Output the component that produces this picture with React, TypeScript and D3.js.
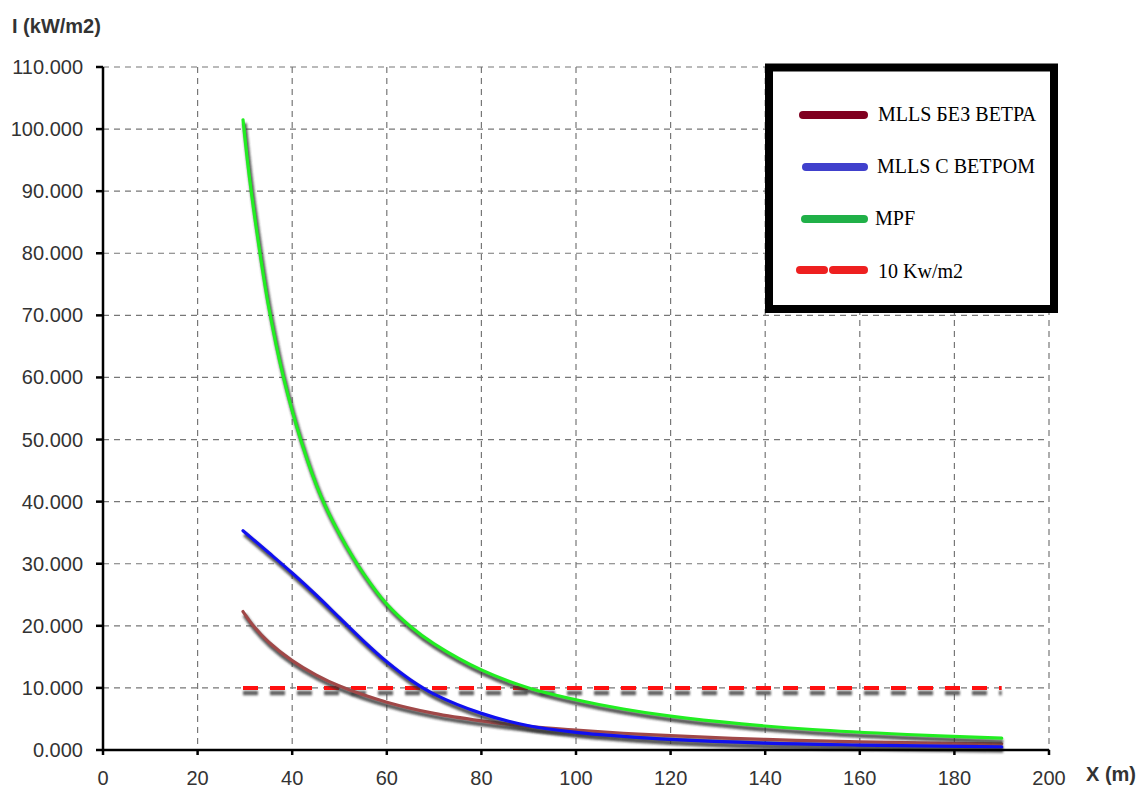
import React from "react";
import * as d3 from "d3";

const xTicks = [0, 20, 40, 60, 80, 100, 120, 140, 160, 180, 200];
const yTicks = [0, 10, 20, 30, 40, 50, 60, 70, 80, 90, 100, 110];

const mpfX = [29.6, 31, 33, 35, 38, 42, 46, 50, 55, 60, 65, 70, 80, 90, 100, 110, 120, 135, 150, 170, 190];
const mpfY = [101.5, 92, 81, 71.5, 60.5, 49.5, 41.0, 34.8, 28.5, 23.5, 19.9, 17.1, 12.9, 10.0, 8.1, 6.6, 5.45, 4.2, 3.3, 2.5, 1.9];

const blueX = [29.6, 35, 40, 45, 50, 55, 60, 65, 70, 80, 90, 100, 110, 120, 140, 160, 190];
const blueY = [35.3, 31.8, 28.5, 25.0, 21.3, 17.6, 14.2, 11.3, 9.0, 5.9, 3.9, 2.85, 2.2, 1.7, 1.1, 0.8, 0.5];

const brownX = [29.6, 32, 35, 40, 45, 50, 60, 70, 80, 90, 100, 110, 120, 140, 160, 190];
const brownY = [22.3, 19.8, 17.4, 14.4, 12.1, 10.3, 7.7, 5.9, 4.7, 3.8, 3.2, 2.7, 2.3, 1.7, 1.3, 1.0];

const limitX = [29.6, 190];
const limitY = [10, 10];

const legendLabels = ["MLLS БЕЗ ВЕТРА", "MLLS С ВЕТРОМ", "MPF", "10 Kw/m2"];

export default function App() {
  const x = d3.scaleLinear().domain([0, 200]).range([103, 1049]);
  const y = d3.scaleLinear().domain([0, 110]).range([750, 67]);

  const line = d3
    .line<[number, number]>()
    .x((d) => x(d[0]))
    .y((d) => y(d[1]))
    .curve(d3.curveCatmullRom.alpha(0.5));

  const zip = (a: number[], b: number[]) => a.map((v, i) => [v, b[i]] as [number, number]);

  const series = [
    { pts: zip(brownX, brownY), color: "#a04848" },
    { pts: zip(blueX, blueY), color: "#1010f0" },
    { pts: zip(mpfX, mpfY), color: "#22ee22" },
  ];

  const font = "'Liberation Sans', Arial, sans-serif";
  const limitPath = line(zip(limitX, limitY)) || "";

  return (
    <svg width={1139} height={789} style={{ position: "absolute", left: 0, top: 0, background: "#fff" }}>
      <defs>
        <filter id="sh" filterUnits="userSpaceOnUse" x={0} y={0} width={1139} height={789}>
          <feGaussianBlur stdDeviation="1.3" />
        </filter>
      </defs>
      <rect x={0} y={0} width={1139} height={789} fill="#fff" />
      {/* grid */}
      {xTicks.slice(1).map((t) => (
        <line key={"gx" + t} x1={x(t)} x2={x(t)} y1={y(110)} y2={y(0)} stroke="#777" strokeWidth={1.2} strokeDasharray="6,5" />
      ))}
      {yTicks.slice(1).map((t) => (
        <line key={"gy" + t} x1={x(0)} x2={x(200)} y1={y(t)} y2={y(t)} stroke="#777" strokeWidth={1.2} strokeDasharray="6,5" />
      ))}
      {/* red limit line shadow + line */}
      <path d={limitPath} transform="translate(0,5)" stroke="#444" strokeOpacity={0.85} strokeWidth={4.5} fill="none" strokeDasharray="15,12" filter="url(#sh)" />
      <path d={limitPath} stroke="#ff1010" strokeWidth={4} fill="none" strokeDasharray="15,12" />
      {/* curves */}
      {series.map((s, i) => (
        <g key={i}>
          <path d={line(s.pts) || ""} transform="translate(1.5,3.5)" stroke="#333" strokeOpacity={0.8} strokeWidth={4.5} fill="none" filter="url(#sh)" />
          <path d={line(s.pts) || ""} stroke={s.color} strokeWidth={3.2} fill="none" strokeLinecap="round" />
        </g>
      ))}
      {/* axes */}
      <line x1={x(0)} x2={x(0)} y1={y(110)} y2={y(0) + 1} stroke="#000" strokeWidth={2.5} />
      <line x1={x(0) - 1} x2={x(200)} y1={y(0)} y2={y(0)} stroke="#000" strokeWidth={2.5} />
      {yTicks.map((t) => (
        <g key={"yt" + t}>
          <line x1={x(0) - 7} x2={x(0)} y1={y(t)} y2={y(t)} stroke="#000" strokeWidth={2.5} />
          <text x={83} y={y(t) + 7} textAnchor="end" fontFamily={font} fontSize={20} fill="#333">
            {d3.format(".3f")(t)}
          </text>
        </g>
      ))}
      {xTicks.map((t) => (
        <g key={"xt" + t}>
          <line x1={x(t)} x2={x(t)} y1={y(0)} y2={y(0) + 5} stroke="#000" strokeWidth={2.5} />
          <text x={x(t)} y={785} textAnchor="middle" fontFamily={font} fontSize={20} fill="#333">
            {t}
          </text>
        </g>
      ))}
      <text x={12} y={33} fontFamily={font} fontSize={20} fontWeight="bold" fill="#333">
        I (kW/m2)
      </text>
      <text x={1086} y={781} fontFamily={font} fontSize={20} fontWeight="bold" fill="#333">
        X (m)
      </text>
      {/* legend */}
      <rect x={769} y={67.5} width={285} height={241.5} fill="#fff" stroke="#000" strokeWidth={8} />
      <line x1={803} x2={864} y1={115} y2={115} stroke="#800020" strokeWidth={8} strokeLinecap="round" />
      <line x1={806} x2={864} y1={167} y2={167} stroke="#4040cc" strokeWidth={8} strokeLinecap="round" />
      <line x1={805} x2={864} y1={219} y2={219} stroke="#20b048" strokeWidth={8} strokeLinecap="round" />
      <line x1={800} x2={824} y1={270} y2={270} stroke="#ee2020" strokeWidth={8} strokeLinecap="round" />
      <line x1={833} x2={864} y1={270} y2={270} stroke="#ee2020" strokeWidth={8} strokeLinecap="round" />
      {legendLabels.map((l, i) => (
        <text key={l} x={[878, 877, 875, 878][i]} y={[121, 173, 225, 278][i]} fontFamily="'Liberation Serif', 'Times New Roman', serif" fontSize={20} fill="#000">
          {l}
        </text>
      ))}
    </svg>
  );
}
